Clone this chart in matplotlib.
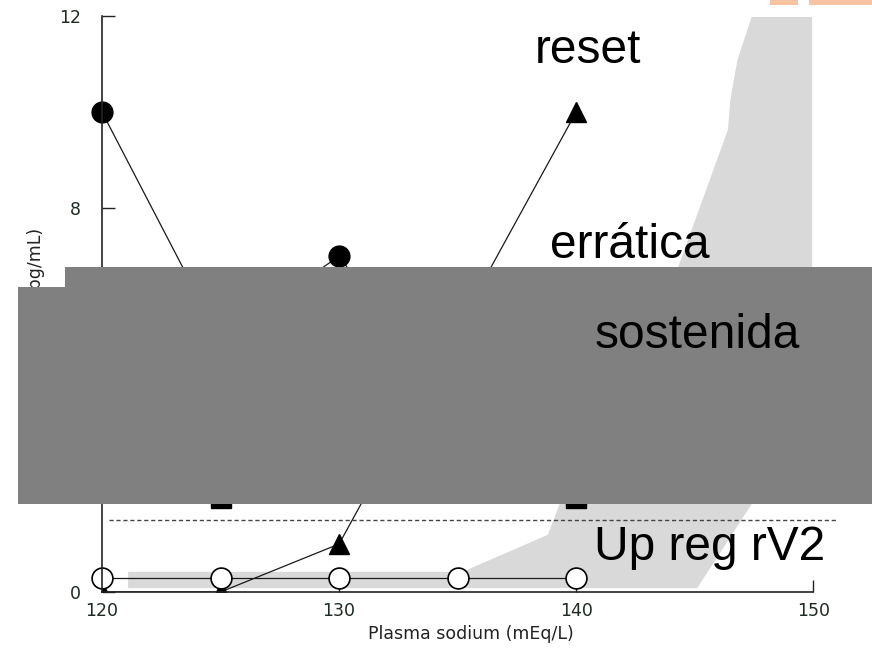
import matplotlib
matplotlib.use("Agg")
import matplotlib.pyplot as plt
from matplotlib.patches import Rectangle, Polygon

# plasma sodium (mEq/L)
sodium = [120, 125, 130, 135, 140]
# plasma AVP (pg/mL) per pattern
erratica = [10.0, 5.25, 7.0, 3.5, 5.0]
reset = [0.0, 0.0, 1.0, 5.5, 10.0]
sostenida = [3.5, 1.95, 4.0, 3.0, 1.95]
up_reg = [0.3, 0.3, 0.3, 0.3, 0.3]
umbral = 1.5

# normal range band (outline)
normal_x = [121.1, 135.2, 138.8, 139.3, 144.3, 146.4, 146.5, 146.8, 147.4,
            149.95, 149.95, 147.4, 145.1, 121.1]
normal_y = [0.42, 0.42, 1.19, 1.83, 6.77, 9.63, 10.25, 11.08, 11.98,
            11.98, 6.77, 1.83, 0.08, 0.08]

xticks = [120, 130, 140, 150]
yticks = [0, 4, 8, 12]

W, H = 872, 650
fig = plt.figure(figsize=(W / 100, H / 100), dpi=100)
ax = fig.add_axes([102 / W, 58 / H, 735 / W, 576 / H])
ax.set_xlim(120, 151)
ax.set_ylim(0, 12)

ax.add_patch(Polygon(list(zip(normal_x, normal_y)), closed=True,
                     facecolor="#d9d9d9", edgecolor="none", zorder=1))
ax.plot([120.3, 151], [umbral, umbral], color="#444", lw=1,
        linestyle=(0, (3, 2)), zorder=2)

lk = dict(color="#1a1a1a", lw=0.9, clip_on=False)
ax.plot(sodium, sostenida, marker="s", ms=15, mfc="black", mec="black", zorder=3, **lk)
ax.plot(sodium, reset, marker="^", ms=14, mfc="black", mec="black", zorder=4,
        color="#1a1a1a", lw=0.9, clip_on=True)
ax.plot(sodium, erratica, marker="o", ms=15, mfc="black", mec="black", zorder=4, **lk)
ax.plot(sodium, up_reg, marker="o", ms=15, mfc="white", mec="black", mew=1.2,
        zorder=5, **lk)

for s in ["top", "right"]:
    ax.spines[s].set_visible(False)
ax.spines["bottom"].set_bounds(120, 150)
for s in ["left", "bottom"]:
    ax.spines[s].set_color("#222")
    ax.spines[s].set_linewidth(1.2)
    ax.spines[s].set_zorder(6)

ax.set_xticks(xticks)
ax.set_yticks(yticks)
ax.tick_params(direction="in", length=9, width=1, labelsize=12.5,
               colors="#222", labelcolor="#1e2b22")
ax.tick_params(axis="x", pad=7)
ax.tick_params(axis="y", pad=15)

fig.text(471 / W, 1 - 634 / H, "Plasma sodium (mEq/L)", ha="center",
         va="center", fontsize=12.5, color="#222")
fig.text(36 / W, 1 - 228 / H, "Plasma AVP (pg/mL)", rotation=90, ha="center",
         va="top", fontsize=12.5, color="#222")

# grey cover box
fig.add_artist(Rectangle((65 / W, 1 - 504 / H), (W - 65) / W, 237 / H,
                         transform=fig.transFigure, facecolor="#808080",
                         edgecolor="none", zorder=10))
fig.add_artist(Rectangle((18 / W, 1 - 504 / H), 48 / W, 217 / H,
                         transform=fig.transFigure, facecolor="#808080",
                         edgecolor="none", zorder=10))
# orange bits at top right
fig.add_artist(Rectangle((770 / W, 1 - 5 / H), 28 / W, 5 / H,
                         transform=fig.transFigure, facecolor="#f7c3a3",
                         edgecolor="none", zorder=10))
fig.add_artist(Rectangle((809 / W, 1 - 5 / H), 63 / W, 5 / H,
                         transform=fig.transFigure, facecolor="#f7c3a3",
                         edgecolor="none", zorder=10))

tk = dict(fontsize=34.5, family="Liberation Sans", color="black", ha="left",
          va="baseline", zorder=11)
fig.text(535 / W, 1 - 63 / H, "reset", **tk)
fig.text(550 / W, 1 - 258 / H, "errática", **tk)
fig.text(595 / W, 1 - 348 / H, "sostenida", **tk)
fig.text(594 / W, 1 - 560 / H, "Up reg rV2", **tk)

fig.savefig("out.png", dpi=100)
